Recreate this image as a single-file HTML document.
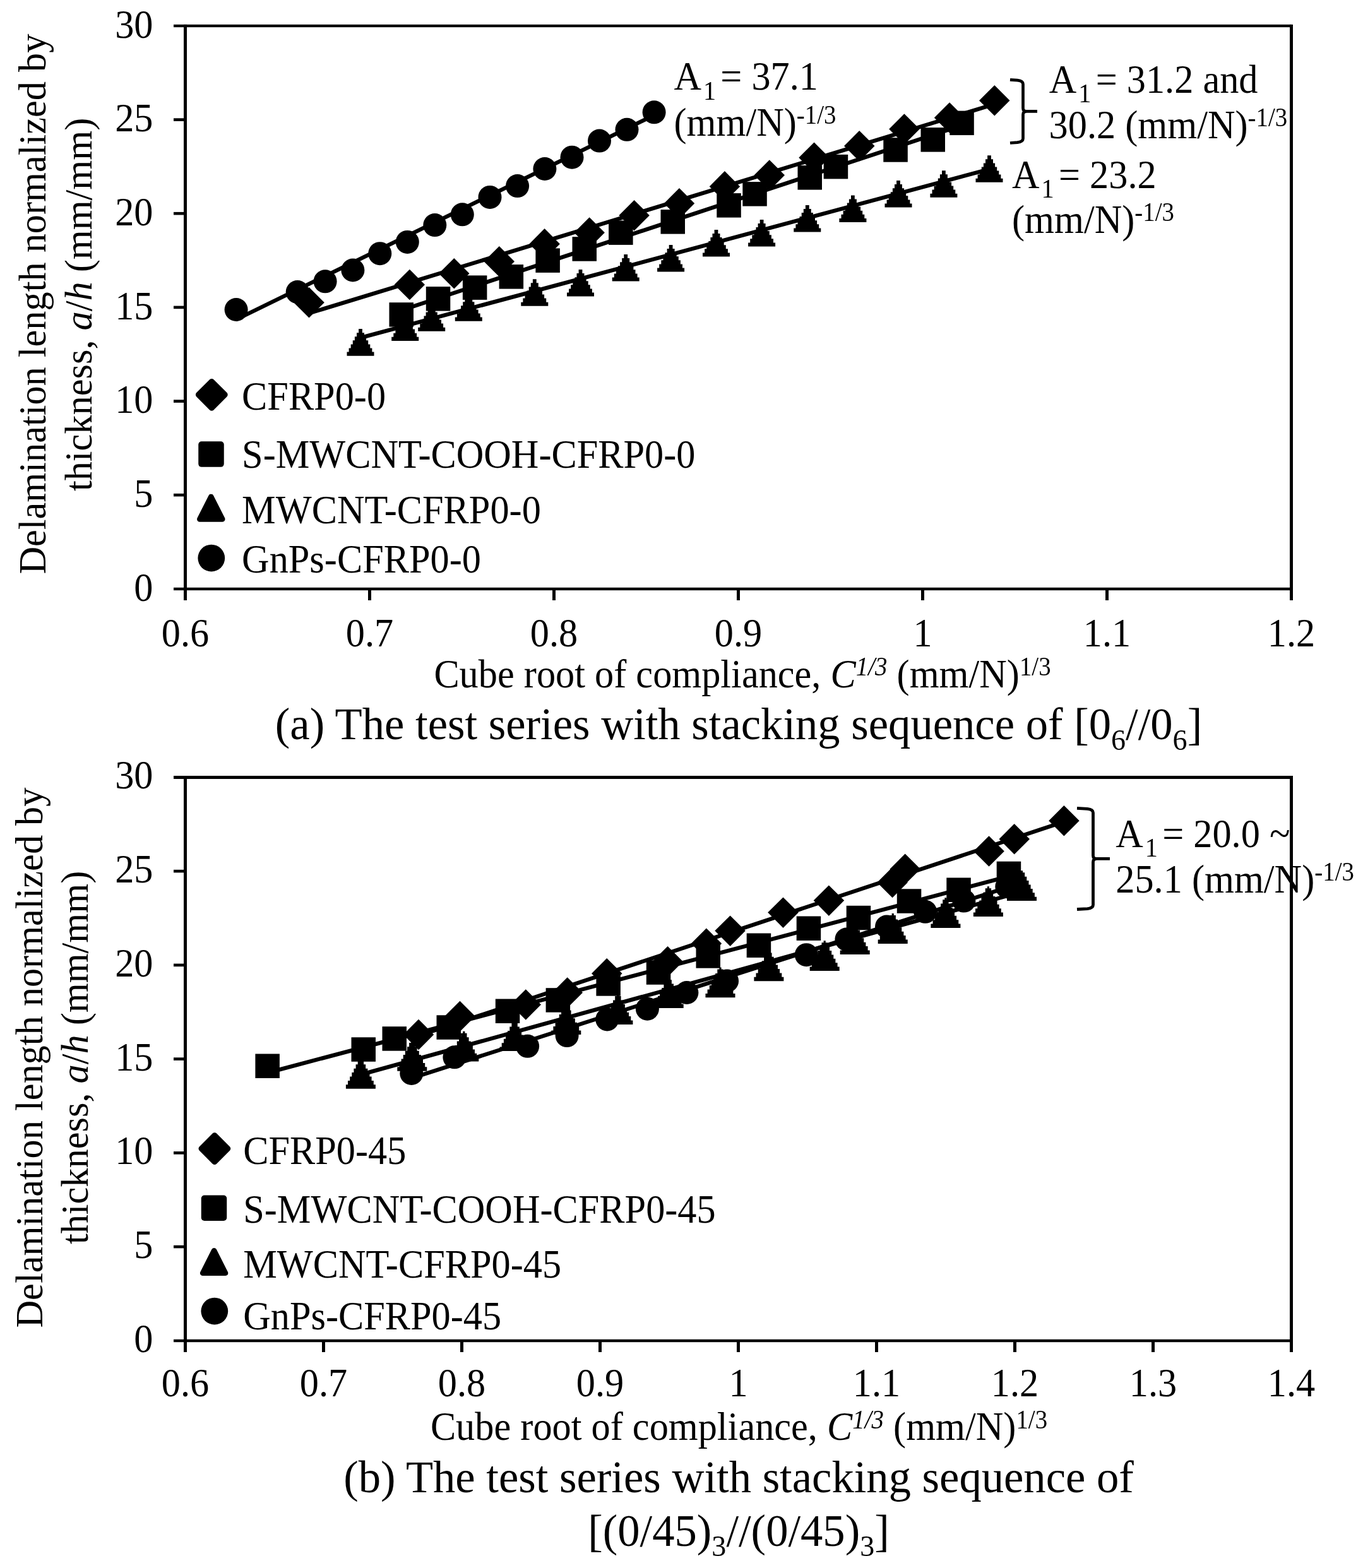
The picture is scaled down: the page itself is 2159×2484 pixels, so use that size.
<!DOCTYPE html>
<html lang="en">
<head>
<meta charset="utf-8">
<title>Delamination length vs cube root of compliance</title>
<style>
html,body{margin:0;padding:0;background:#fff;}
body{width:2159px;height:2484px;overflow:hidden;}
svg{display:block;}
svg text{font-family:"Liberation Serif",serif;fill:#000;}
.i{font-style:italic;}
</style>
</head>
<body>
<svg width="2159" height="2484" viewBox="0 0 2159 2484">
<rect width="2159" height="2484" fill="#fff"/>
<g class="chart-a">
<g class="ticks">
<text transform="translate(242.5 59.6) scale(0.973 1.03)" font-size="62" text-anchor="end">30</text>
<text transform="translate(242.5 208.3) scale(0.973 1.03)" font-size="62" text-anchor="end">25</text>
<text transform="translate(242.5 356.9) scale(0.973 1.03)" font-size="62" text-anchor="end">20</text>
<text transform="translate(242.5 505.6) scale(0.973 1.03)" font-size="62" text-anchor="end">15</text>
<text transform="translate(242.5 654.3) scale(0.973 1.03)" font-size="62" text-anchor="end">10</text>
<text transform="translate(242.5 802.9) scale(0.973 1.03)" font-size="62" text-anchor="end">5</text>
<text transform="translate(242.5 951.6) scale(0.973 1.03)" font-size="62" text-anchor="end">0</text>
<text transform="translate(293.5 1023.5) scale(0.973 1.03)" font-size="62" text-anchor="middle">0.6</text>
<text transform="translate(585.5 1023.5) scale(0.973 1.03)" font-size="62" text-anchor="middle">0.7</text>
<text transform="translate(877.5 1023.5) scale(0.973 1.03)" font-size="62" text-anchor="middle">0.8</text>
<text transform="translate(1169.5 1023.5) scale(0.973 1.03)" font-size="62" text-anchor="middle">0.9</text>
<text transform="translate(1461.5 1023.5) scale(0.973 1.03)" font-size="62" text-anchor="middle">1</text>
<text transform="translate(1753.5 1023.5) scale(0.973 1.03)" font-size="62" text-anchor="middle">1.1</text>
<text transform="translate(2045.5 1023.5) scale(0.973 1.03)" font-size="62" text-anchor="middle">1.2</text>
</g>
<g class="trend" stroke="#000" stroke-width="6.3" fill="none">
<line x1="373.5" y1="506.5" x2="1035.5" y2="182.8"/>
<line x1="489.5" y1="496.3" x2="1575.3" y2="165.0"/>
<line x1="635.3" y1="491.7" x2="1523.1" y2="198.8"/>
<line x1="571.0" y1="535.1" x2="1567.0" y2="268.0"/>
</g>
<g class="markers" fill="#000">
<path d="M489.5 455.1L513.8 479.3L489.5 503.6L465.2 479.3Z"/>
<path d="M648.8 426.8L673.0 451.1L648.8 475.3L624.5 451.1Z"/>
<path d="M719.3 409.1L743.5 433.3L719.3 457.6L695.0 433.3Z"/>
<path d="M790.8 390.1L815.0 414.3L790.8 438.6L766.5 414.3Z"/>
<path d="M862.6 362.1L886.9 386.4L862.6 410.6L838.4 386.4Z"/>
<path d="M933.6 344.3L957.9 368.6L933.6 392.8L909.4 368.6Z"/>
<path d="M1004.6 316.9L1028.8 341.2L1004.6 365.4L980.4 341.2Z"/>
<path d="M1076.0 297.9L1100.2 322.2L1076.0 346.4L1051.8 322.2Z"/>
<path d="M1147.9 271.1L1172.2 295.4L1147.9 319.6L1123.7 295.4Z"/>
<path d="M1218.8 253.3L1243.0 277.6L1218.8 301.8L1194.5 277.6Z"/>
<path d="M1289.6 225.5L1313.8 249.8L1289.6 274.0L1265.3 249.8Z"/>
<path d="M1361.2 207.0L1385.5 231.3L1361.2 255.5L1337.0 231.3Z"/>
<path d="M1432.4 180.2L1456.7 204.5L1432.4 228.8L1408.2 204.5Z"/>
<path d="M1504.1 162.3L1528.3 186.6L1504.1 210.8L1479.8 186.6Z"/>
<path d="M1575.3 134.9L1599.5 159.2L1575.3 183.4L1551.0 159.2Z"/>
<rect x="616.5" y="479.2" width="38.5" height="38.5"/>
<rect x="674.8" y="454.1" width="38.5" height="38.5"/>
<rect x="732.9" y="436.4" width="38.5" height="38.5"/>
<rect x="790.6" y="419.1" width="38.5" height="38.5"/>
<rect x="848.4" y="393.4" width="38.5" height="38.5"/>
<rect x="906.5" y="375.2" width="38.5" height="38.5"/>
<rect x="964.1" y="349.4" width="38.5" height="38.5"/>
<rect x="1046.5" y="332.1" width="38.5" height="38.5"/>
<rect x="1135.3" y="306.1" width="38.5" height="38.5"/>
<rect x="1176.3" y="288.1" width="38.5" height="38.5"/>
<rect x="1263.5" y="262.1" width="38.5" height="38.5"/>
<rect x="1304.7" y="244.9" width="38.5" height="38.5"/>
<rect x="1399.3" y="218.2" width="38.5" height="38.5"/>
<rect x="1458.5" y="202.1" width="38.5" height="38.5"/>
<rect x="1504.3" y="175.6" width="38.5" height="38.5"/>
<path d="M549.5 563.7L549.5 557.6L552.6 557.6L552.6 551.5L555.7 551.5L555.7 545.4L558.8 545.4L558.8 539.3L561.9 539.3L561.9 533.2L565.0 533.2L565.0 527.2L568.1 527.2L568.1 521.1L573.9 521.1L573.9 527.2L577.0 527.2L577.0 533.2L580.1 533.2L580.1 539.3L583.2 539.3L583.2 545.4L586.3 545.4L586.3 551.5L589.4 551.5L589.4 557.6L592.5 557.6L592.5 563.7Z"/>
<path d="M620.2 539.9L620.2 533.8L623.3 533.8L623.3 527.7L626.4 527.7L626.4 521.6L629.5 521.6L629.5 515.5L632.6 515.5L632.6 509.4L635.7 509.4L635.7 503.4L638.8 503.4L638.8 497.3L644.6 497.3L644.6 503.4L647.7 503.4L647.7 509.4L650.8 509.4L650.8 515.5L653.9 515.5L653.9 521.6L657.0 521.6L657.0 527.7L660.1 527.7L660.1 533.8L663.2 533.8L663.2 539.9Z"/>
<path d="M662.2 524.8L662.2 518.7L665.3 518.7L665.3 512.6L668.4 512.6L668.4 506.5L671.5 506.5L671.5 500.4L674.6 500.4L674.6 494.4L677.7 494.4L677.7 488.3L680.8 488.3L680.8 482.2L686.6 482.2L686.6 488.3L689.7 488.3L689.7 494.4L692.8 494.4L692.8 500.4L695.9 500.4L695.9 506.5L699.0 506.5L699.0 512.6L702.1 512.6L702.1 518.7L705.2 518.7L705.2 524.8Z"/>
<path d="M720.8 508.7L720.8 502.6L723.9 502.6L723.9 496.5L727.0 496.5L727.0 490.4L730.1 490.4L730.1 484.3L733.2 484.3L733.2 478.3L736.3 478.3L736.3 472.2L739.4 472.2L739.4 466.1L745.2 466.1L745.2 472.2L748.3 472.2L748.3 478.3L751.4 478.3L751.4 484.3L754.5 484.3L754.5 490.4L757.6 490.4L757.6 496.5L760.7 496.5L760.7 502.6L763.8 502.6L763.8 508.7Z"/>
<path d="M825.3 484.8L825.3 478.7L828.4 478.7L828.4 472.6L831.5 472.6L831.5 466.5L834.6 466.5L834.6 460.4L837.7 460.4L837.7 454.4L840.8 454.4L840.8 448.3L843.9 448.3L843.9 442.2L849.7 442.2L849.7 448.3L852.8 448.3L852.8 454.4L855.9 454.4L855.9 460.4L859.0 460.4L859.0 466.5L862.1 466.5L862.1 472.6L865.2 472.6L865.2 478.7L868.3 478.7L868.3 484.8Z"/>
<path d="M898.0 469.6L898.0 463.5L901.1 463.5L901.1 457.4L904.2 457.4L904.2 451.3L907.3 451.3L907.3 445.2L910.4 445.2L910.4 439.2L913.5 439.2L913.5 433.1L916.6 433.1L916.6 427.0L922.4 427.0L922.4 433.1L925.5 433.1L925.5 439.2L928.6 439.2L928.6 445.2L931.7 445.2L931.7 451.3L934.8 451.3L934.8 457.4L937.9 457.4L937.9 463.5L941.0 463.5L941.0 469.6Z"/>
<path d="M969.7 445.6L969.7 439.5L972.8 439.5L972.8 433.4L975.9 433.4L975.9 427.3L979.0 427.3L979.0 421.2L982.1 421.2L982.1 415.2L985.2 415.2L985.2 409.1L988.3 409.1L988.3 403.0L994.1 403.0L994.1 409.1L997.2 409.1L997.2 415.2L1000.3 415.2L1000.3 421.2L1003.4 421.2L1003.4 427.3L1006.5 427.3L1006.5 433.4L1009.6 433.4L1009.6 439.5L1012.7 439.5L1012.7 445.6Z"/>
<path d="M1041.1 430.6L1041.1 424.5L1044.2 424.5L1044.2 418.4L1047.3 418.4L1047.3 412.3L1050.4 412.3L1050.4 406.2L1053.5 406.2L1053.5 400.2L1056.6 400.2L1056.6 394.1L1059.7 394.1L1059.7 388.0L1065.5 388.0L1065.5 394.1L1068.6 394.1L1068.6 400.2L1071.7 400.2L1071.7 406.2L1074.8 406.2L1074.8 412.3L1077.9 412.3L1077.9 418.4L1081.0 418.4L1081.0 424.5L1084.1 424.5L1084.1 430.6Z"/>
<path d="M1113.0 406.5L1113.0 400.4L1116.1 400.4L1116.1 394.3L1119.2 394.3L1119.2 388.2L1122.3 388.2L1122.3 382.1L1125.4 382.1L1125.4 376.1L1128.5 376.1L1128.5 370.0L1131.6 370.0L1131.6 363.9L1137.4 363.9L1137.4 370.0L1140.5 370.0L1140.5 376.1L1143.6 376.1L1143.6 382.1L1146.7 382.1L1146.7 388.2L1149.8 388.2L1149.8 394.3L1152.9 394.3L1152.9 400.4L1156.0 400.4L1156.0 406.5Z"/>
<path d="M1185.1 390.5L1185.1 384.4L1188.2 384.4L1188.2 378.3L1191.3 378.3L1191.3 372.2L1194.4 372.2L1194.4 366.1L1197.5 366.1L1197.5 360.1L1200.6 360.1L1200.6 354.0L1203.7 354.0L1203.7 347.9L1209.5 347.9L1209.5 354.0L1212.6 354.0L1212.6 360.1L1215.7 360.1L1215.7 366.1L1218.8 366.1L1218.8 372.2L1221.9 372.2L1221.9 378.3L1225.0 378.3L1225.0 384.4L1228.1 384.4L1228.1 390.5Z"/>
<path d="M1257.3 367.5L1257.3 361.4L1260.4 361.4L1260.4 355.3L1263.5 355.3L1263.5 349.2L1266.6 349.2L1266.6 343.1L1269.7 343.1L1269.7 337.1L1272.8 337.1L1272.8 331.0L1275.9 331.0L1275.9 324.9L1281.7 324.9L1281.7 331.0L1284.8 331.0L1284.8 337.1L1287.9 337.1L1287.9 343.1L1291.0 343.1L1291.0 349.2L1294.1 349.2L1294.1 355.3L1297.2 355.3L1297.2 361.4L1300.3 361.4L1300.3 367.5Z"/>
<path d="M1329.4 352.0L1329.4 345.9L1332.5 345.9L1332.5 339.8L1335.6 339.8L1335.6 333.7L1338.7 333.7L1338.7 327.6L1341.8 327.6L1341.8 321.6L1344.9 321.6L1344.9 315.5L1348.0 315.5L1348.0 309.4L1353.8 309.4L1353.8 315.5L1356.9 315.5L1356.9 321.6L1360.0 321.6L1360.0 327.6L1363.1 327.6L1363.1 333.7L1366.2 333.7L1366.2 339.8L1369.3 339.8L1369.3 345.9L1372.4 345.9L1372.4 352.0Z"/>
<path d="M1401.5 328.6L1401.5 322.5L1404.6 322.5L1404.6 316.4L1407.7 316.4L1407.7 310.3L1410.8 310.3L1410.8 304.2L1413.9 304.2L1413.9 298.2L1417.0 298.2L1417.0 292.1L1420.1 292.1L1420.1 286.0L1425.9 286.0L1425.9 292.1L1429.0 292.1L1429.0 298.2L1432.1 298.2L1432.1 304.2L1435.2 304.2L1435.2 310.3L1438.3 310.3L1438.3 316.4L1441.4 316.4L1441.4 322.5L1444.5 322.5L1444.5 328.6Z"/>
<path d="M1473.4 312.8L1473.4 306.7L1476.5 306.7L1476.5 300.6L1479.6 300.6L1479.6 294.5L1482.7 294.5L1482.7 288.4L1485.8 288.4L1485.8 282.4L1488.9 282.4L1488.9 276.3L1492.0 276.3L1492.0 270.2L1497.8 270.2L1497.8 276.3L1500.9 276.3L1500.9 282.4L1504.0 282.4L1504.0 288.4L1507.1 288.4L1507.1 294.5L1510.2 294.5L1510.2 300.6L1513.3 300.6L1513.3 306.7L1516.4 306.7L1516.4 312.8Z"/>
<path d="M1545.5 288.8L1545.5 282.7L1548.6 282.7L1548.6 276.6L1551.7 276.6L1551.7 270.5L1554.8 270.5L1554.8 264.4L1557.9 264.4L1557.9 258.4L1561.0 258.4L1561.0 252.3L1564.1 252.3L1564.1 246.2L1569.9 246.2L1569.9 252.3L1573.0 252.3L1573.0 258.4L1576.1 258.4L1576.1 264.4L1579.2 264.4L1579.2 270.5L1582.3 270.5L1582.3 276.6L1585.4 276.6L1585.4 282.7L1588.5 282.7L1588.5 288.8Z"/>
<circle cx="374.1" cy="490.5" r="18.5"/>
<circle cx="471.2" cy="462.6" r="18.5"/>
<circle cx="515.1" cy="445.8" r="18.5"/>
<circle cx="558.9" cy="428.0" r="18.5"/>
<circle cx="601.8" cy="401.7" r="18.5"/>
<circle cx="645.3" cy="383.4" r="18.5"/>
<circle cx="688.8" cy="356.6" r="18.5"/>
<circle cx="732.3" cy="339.8" r="18.5"/>
<circle cx="776.0" cy="312.4" r="18.5"/>
<circle cx="819.6" cy="294.6" r="18.5"/>
<circle cx="862.9" cy="267.5" r="18.5"/>
<circle cx="906.0" cy="249.2" r="18.5"/>
<circle cx="949.5" cy="223.1" r="18.5"/>
<circle cx="993.0" cy="205.3" r="18.5"/>
<circle cx="1036.1" cy="177.8" r="18.5"/>
</g>
<g class="legend">
<path d="M335.3 604.4L356.2 625.3L335.3 646.1999999999999L314.40000000000003 625.3Z" fill="#000" stroke="#000" stroke-width="9" stroke-linejoin="round"/>
<text transform="translate(383.1 648.9) scale(0.973 1.03)" font-size="62">CFRP0-0</text>
<rect x="314.25" y="699.35" width="40.5" height="40.5" rx="5" ry="5" fill="#000"/>
<text transform="translate(383.1 741.4) scale(0.973 1.03)" font-size="62">S-MWCNT-COOH-CFRP0-0</text>
<path d="M334.3 786.9000000000001L352.3 822.5L316.3 822.5Z" fill="#000" stroke="#000" stroke-width="8.5" stroke-linejoin="round"/>
<text transform="translate(383.1 829.0) scale(0.973 1.03)" font-size="62">MWCNT-CFRP0-0</text>
<circle cx="334.8" cy="884.1" r="21.4" fill="#000"/>
<text transform="translate(383.1 907.1) scale(0.973 1.03)" font-size="62">GnPs-CFRP0-0</text>
</g>
</g>
<g class="chart-b">
<g class="ticks">
<text transform="translate(242.5 1249.3) scale(0.973 1.03)" font-size="62" text-anchor="end">30</text>
<text transform="translate(242.5 1398.0) scale(0.973 1.03)" font-size="62" text-anchor="end">25</text>
<text transform="translate(242.5 1546.8) scale(0.973 1.03)" font-size="62" text-anchor="end">20</text>
<text transform="translate(242.5 1695.5) scale(0.973 1.03)" font-size="62" text-anchor="end">15</text>
<text transform="translate(242.5 1844.3) scale(0.973 1.03)" font-size="62" text-anchor="end">10</text>
<text transform="translate(242.5 1993.0) scale(0.973 1.03)" font-size="62" text-anchor="end">5</text>
<text transform="translate(242.5 2141.8) scale(0.973 1.03)" font-size="62" text-anchor="end">0</text>
<text transform="translate(293.5 2212.1) scale(0.973 1.03)" font-size="62" text-anchor="middle">0.6</text>
<text transform="translate(512.5 2212.1) scale(0.973 1.03)" font-size="62" text-anchor="middle">0.7</text>
<text transform="translate(731.5 2212.1) scale(0.973 1.03)" font-size="62" text-anchor="middle">0.8</text>
<text transform="translate(950.5 2212.1) scale(0.973 1.03)" font-size="62" text-anchor="middle">0.9</text>
<text transform="translate(1169.5 2212.1) scale(0.973 1.03)" font-size="62" text-anchor="middle">1</text>
<text transform="translate(1388.5 2212.1) scale(0.973 1.03)" font-size="62" text-anchor="middle">1.1</text>
<text transform="translate(1607.5 2212.1) scale(0.973 1.03)" font-size="62" text-anchor="middle">1.2</text>
<text transform="translate(1826.5 2212.1) scale(0.973 1.03)" font-size="62" text-anchor="middle">1.3</text>
<text transform="translate(2045.5 2212.1) scale(0.973 1.03)" font-size="62" text-anchor="middle">1.4</text>
</g>
<g class="trend" stroke="#000" stroke-width="6.3" fill="none">
<line x1="651.2" y1="1708.2" x2="1594.2" y2="1406.3"/>
<line x1="663.0" y1="1640.8" x2="1685.4" y2="1301.7"/>
<line x1="423.2" y1="1699.6" x2="1597.4" y2="1388.4"/>
<line x1="571.4" y1="1702.4" x2="1618.5" y2="1412.8"/>
</g>
<g class="markers" fill="#000">
<path d="M663.0 1614.8L687.2 1639.0L663.0 1663.2L638.8 1639.0Z"/>
<path d="M728.5 1585.8L752.8 1610.0L728.5 1634.2L704.2 1610.0Z"/>
<path d="M832.8 1567.2L857.0 1591.4L832.8 1615.7L808.5 1591.4Z"/>
<path d="M898.7 1548.2L923.0 1572.4L898.7 1596.7L874.5 1572.4Z"/>
<path d="M961.2 1518.0L985.5 1542.3L961.2 1566.5L937.0 1542.3Z"/>
<path d="M1057.6 1499.0L1081.8 1523.3L1057.6 1547.5L1033.3 1523.3Z"/>
<path d="M1118.9 1470.5L1143.2 1494.7L1118.9 1519.0L1094.7 1494.7Z"/>
<path d="M1156.6 1450.4L1180.8 1474.6L1156.6 1498.9L1132.3 1474.6Z"/>
<path d="M1240.5 1421.4L1264.8 1445.6L1240.5 1469.9L1216.2 1445.6Z"/>
<path d="M1312.9 1402.4L1337.2 1426.6L1312.9 1450.9L1288.7 1426.6Z"/>
<path d="M1413.6 1373.8L1437.8 1398.0L1413.6 1422.2L1389.3 1398.0Z"/>
<path d="M1433.7 1352.5L1458.0 1376.8L1433.7 1401.0L1409.5 1376.8Z"/>
<path d="M1566.5 1324.2L1590.8 1348.5L1566.5 1372.8L1542.2 1348.5Z"/>
<path d="M1606.7 1305.0L1631.0 1329.3L1606.7 1353.5L1582.5 1329.3Z"/>
<path d="M1685.4 1276.0L1709.7 1300.3L1685.4 1324.5L1661.2 1300.3Z"/>
<rect x="404.4" y="1669.5" width="38.5" height="38.5"/>
<rect x="556.5" y="1643.3" width="38.5" height="38.5"/>
<rect x="605.5" y="1626.2" width="38.5" height="38.5"/>
<rect x="691.5" y="1608.3" width="38.5" height="38.5"/>
<rect x="784.8" y="1582.5" width="38.5" height="38.5"/>
<rect x="864.6" y="1565.2" width="38.5" height="38.5"/>
<rect x="944.4" y="1539.2" width="38.5" height="38.5"/>
<rect x="1023.8" y="1521.3" width="38.5" height="38.5"/>
<rect x="1102.5" y="1495.2" width="38.5" height="38.5"/>
<rect x="1182.7" y="1478.5" width="38.5" height="38.5"/>
<rect x="1261.7" y="1451.5" width="38.5" height="38.5"/>
<rect x="1340.7" y="1434.8" width="38.5" height="38.5"/>
<rect x="1420.8" y="1408.3" width="38.5" height="38.5"/>
<rect x="1499.3" y="1390.5" width="38.5" height="38.5"/>
<rect x="1578.7" y="1364.7" width="38.5" height="38.5"/>
<path d="M547.9 1724.7L547.9 1718.3L551.0 1718.3L551.0 1711.9L554.2 1711.9L554.2 1705.5L557.3 1705.5L557.3 1699.1L560.4 1699.1L560.4 1692.7L563.6 1692.7L563.6 1686.3L566.7 1686.3L566.7 1679.9L569.8 1679.9L569.8 1676.9L573.0 1676.9L573.0 1679.9L576.1 1679.9L576.1 1686.3L579.2 1686.3L579.2 1692.7L582.4 1692.7L582.4 1699.1L585.5 1699.1L585.5 1705.5L588.6 1705.5L588.6 1711.9L591.8 1711.9L591.8 1718.3L594.9 1718.3L594.9 1724.7Z"/>
<path d="M629.3 1696.7L629.3 1690.3L632.4 1690.3L632.4 1683.9L635.6 1683.9L635.6 1677.5L638.7 1677.5L638.7 1671.1L641.8 1671.1L641.8 1664.7L645.0 1664.7L645.0 1658.3L648.1 1658.3L648.1 1651.9L651.2 1651.9L651.2 1648.9L654.4 1648.9L654.4 1651.9L657.5 1651.9L657.5 1658.3L660.6 1658.3L660.6 1664.7L663.8 1664.7L663.8 1671.1L666.9 1671.1L666.9 1677.5L670.0 1677.5L670.0 1683.9L673.2 1683.9L673.2 1690.3L676.3 1690.3L676.3 1696.7Z"/>
<path d="M711.3 1681.6L711.3 1675.2L714.4 1675.2L714.4 1668.8L717.6 1668.8L717.6 1662.4L720.7 1662.4L720.7 1656.0L723.8 1656.0L723.8 1649.6L727.0 1649.6L727.0 1643.2L730.1 1643.2L730.1 1636.8L733.2 1636.8L733.2 1633.8L736.4 1633.8L736.4 1636.8L739.5 1636.8L739.5 1643.2L742.6 1643.2L742.6 1649.6L745.8 1649.6L745.8 1656.0L748.9 1656.0L748.9 1662.4L752.0 1662.4L752.0 1668.8L755.2 1668.8L755.2 1675.2L758.3 1675.2L758.3 1681.6Z"/>
<path d="M791.6 1665.0L791.6 1658.6L794.7 1658.6L794.7 1652.2L797.9 1652.2L797.9 1645.8L801.0 1645.8L801.0 1639.4L804.1 1639.4L804.1 1633.0L807.3 1633.0L807.3 1626.6L810.4 1626.6L810.4 1620.2L813.5 1620.2L813.5 1617.2L816.7 1617.2L816.7 1620.2L819.8 1620.2L819.8 1626.6L822.9 1626.6L822.9 1633.0L826.1 1633.0L826.1 1639.4L829.2 1639.4L829.2 1645.8L832.3 1645.8L832.3 1652.2L835.5 1652.2L835.5 1658.6L838.6 1658.6L838.6 1665.0Z"/>
<path d="M873.3 1638.9L873.3 1632.5L876.4 1632.5L876.4 1626.1L879.6 1626.1L879.6 1619.7L882.7 1619.7L882.7 1613.3L885.8 1613.3L885.8 1606.9L889.0 1606.9L889.0 1600.5L892.1 1600.5L892.1 1594.1L895.2 1594.1L895.2 1591.1L898.4 1591.1L898.4 1594.1L901.5 1594.1L901.5 1600.5L904.6 1600.5L904.6 1606.9L907.8 1606.9L907.8 1613.3L910.9 1613.3L910.9 1619.7L914.0 1619.7L914.0 1626.1L917.2 1626.1L917.2 1632.5L920.3 1632.5L920.3 1638.9Z"/>
<path d="M955.4 1622.9L955.4 1616.5L958.5 1616.5L958.5 1610.1L961.7 1610.1L961.7 1603.7L964.8 1603.7L964.8 1597.3L967.9 1597.3L967.9 1590.9L971.1 1590.9L971.1 1584.5L974.2 1584.5L974.2 1578.1L977.3 1578.1L977.3 1575.1L980.5 1575.1L980.5 1578.1L983.6 1578.1L983.6 1584.5L986.7 1584.5L986.7 1590.9L989.9 1590.9L989.9 1597.3L993.0 1597.3L993.0 1603.7L996.1 1603.7L996.1 1610.1L999.3 1610.1L999.3 1616.5L1002.4 1616.5L1002.4 1622.9Z"/>
<path d="M1035.7 1597.0L1035.7 1590.6L1038.8 1590.6L1038.8 1584.2L1042.0 1584.2L1042.0 1577.8L1045.1 1577.8L1045.1 1571.4L1048.2 1571.4L1048.2 1565.0L1051.4 1565.0L1051.4 1558.6L1054.5 1558.6L1054.5 1552.2L1057.6 1552.2L1057.6 1549.2L1060.8 1549.2L1060.8 1552.2L1063.9 1552.2L1063.9 1558.6L1067.0 1558.6L1067.0 1565.0L1070.2 1565.0L1070.2 1571.4L1073.3 1571.4L1073.3 1577.8L1076.4 1577.8L1076.4 1584.2L1079.6 1584.2L1079.6 1590.6L1082.7 1590.6L1082.7 1597.0Z"/>
<path d="M1117.5 1580.3L1117.5 1573.9L1120.6 1573.9L1120.6 1567.5L1123.8 1567.5L1123.8 1561.1L1126.9 1561.1L1126.9 1554.7L1130.0 1554.7L1130.0 1548.3L1133.2 1548.3L1133.2 1541.9L1136.3 1541.9L1136.3 1535.5L1139.4 1535.5L1139.4 1532.5L1142.6 1532.5L1142.6 1535.5L1145.7 1535.5L1145.7 1541.9L1148.8 1541.9L1148.8 1548.3L1152.0 1548.3L1152.0 1554.7L1155.1 1554.7L1155.1 1561.1L1158.2 1561.1L1158.2 1567.5L1161.4 1567.5L1161.4 1573.9L1164.5 1573.9L1164.5 1580.3Z"/>
<path d="M1194.4 1554.2L1194.4 1547.8L1197.5 1547.8L1197.5 1541.4L1200.7 1541.4L1200.7 1535.0L1203.8 1535.0L1203.8 1528.6L1206.9 1528.6L1206.9 1522.2L1210.1 1522.2L1210.1 1515.8L1213.2 1515.8L1213.2 1509.4L1216.3 1509.4L1216.3 1506.4L1219.5 1506.4L1219.5 1509.4L1222.6 1509.4L1222.6 1515.8L1225.7 1515.8L1225.7 1522.2L1228.9 1522.2L1228.9 1528.6L1232.0 1528.6L1232.0 1535.0L1235.1 1535.0L1235.1 1541.4L1238.3 1541.4L1238.3 1547.8L1241.4 1547.8L1241.4 1554.2Z"/>
<path d="M1282.7 1538.0L1282.7 1531.6L1285.8 1531.6L1285.8 1525.2L1289.0 1525.2L1289.0 1518.8L1292.1 1518.8L1292.1 1512.4L1295.2 1512.4L1295.2 1506.0L1298.4 1506.0L1298.4 1499.6L1301.5 1499.6L1301.5 1493.2L1304.6 1493.2L1304.6 1490.2L1307.8 1490.2L1307.8 1493.2L1310.9 1493.2L1310.9 1499.6L1314.0 1499.6L1314.0 1506.0L1317.2 1506.0L1317.2 1512.4L1320.3 1512.4L1320.3 1518.8L1323.4 1518.8L1323.4 1525.2L1326.6 1525.2L1326.6 1531.6L1329.7 1531.6L1329.7 1538.0Z"/>
<path d="M1330.7 1511.9L1330.7 1505.5L1333.8 1505.5L1333.8 1499.1L1337.0 1499.1L1337.0 1492.7L1340.1 1492.7L1340.1 1486.3L1343.2 1486.3L1343.2 1479.9L1346.4 1479.9L1346.4 1473.5L1349.5 1473.5L1349.5 1467.1L1352.6 1467.1L1352.6 1464.1L1355.8 1464.1L1355.8 1467.1L1358.9 1467.1L1358.9 1473.5L1362.0 1473.5L1362.0 1479.9L1365.2 1479.9L1365.2 1486.3L1368.3 1486.3L1368.3 1492.7L1371.4 1492.7L1371.4 1499.1L1374.6 1499.1L1374.6 1505.5L1377.7 1505.5L1377.7 1511.9Z"/>
<path d="M1390.7 1494.9L1390.7 1488.5L1393.8 1488.5L1393.8 1482.1L1397.0 1482.1L1397.0 1475.7L1400.1 1475.7L1400.1 1469.3L1403.2 1469.3L1403.2 1462.9L1406.4 1462.9L1406.4 1456.5L1409.5 1456.5L1409.5 1450.1L1412.6 1450.1L1412.6 1447.1L1415.8 1447.1L1415.8 1450.1L1418.9 1450.1L1418.9 1456.5L1422.0 1456.5L1422.0 1462.9L1425.2 1462.9L1425.2 1469.3L1428.3 1469.3L1428.3 1475.7L1431.4 1475.7L1431.4 1482.1L1434.6 1482.1L1434.6 1488.5L1437.7 1488.5L1437.7 1494.9Z"/>
<path d="M1474.4 1470.0L1474.4 1463.6L1477.5 1463.6L1477.5 1457.2L1480.7 1457.2L1480.7 1450.8L1483.8 1450.8L1483.8 1444.4L1486.9 1444.4L1486.9 1438.0L1490.1 1438.0L1490.1 1431.6L1493.2 1431.6L1493.2 1425.2L1496.3 1425.2L1496.3 1422.2L1499.5 1422.2L1499.5 1425.2L1502.6 1425.2L1502.6 1431.6L1505.7 1431.6L1505.7 1438.0L1508.9 1438.0L1508.9 1444.4L1512.0 1444.4L1512.0 1450.8L1515.1 1450.8L1515.1 1457.2L1518.3 1457.2L1518.3 1463.6L1521.4 1463.6L1521.4 1470.0Z"/>
<path d="M1541.9 1452.0L1541.9 1445.6L1545.0 1445.6L1545.0 1439.2L1548.2 1439.2L1548.2 1432.8L1551.3 1432.8L1551.3 1426.4L1554.4 1426.4L1554.4 1420.0L1557.6 1420.0L1557.6 1413.6L1560.7 1413.6L1560.7 1407.2L1563.8 1407.2L1563.8 1404.2L1567.0 1404.2L1567.0 1407.2L1570.1 1407.2L1570.1 1413.6L1573.2 1413.6L1573.2 1420.0L1576.4 1420.0L1576.4 1426.4L1579.5 1426.4L1579.5 1432.8L1582.6 1432.8L1582.6 1439.2L1585.8 1439.2L1585.8 1445.6L1588.9 1445.6L1588.9 1452.0Z"/>
<path d="M1595.0 1427.1L1595.0 1420.7L1598.1 1420.7L1598.1 1414.3L1601.3 1414.3L1601.3 1407.9L1604.4 1407.9L1604.4 1401.5L1607.5 1401.5L1607.5 1395.1L1610.7 1395.1L1610.7 1388.7L1613.8 1388.7L1613.8 1382.3L1616.9 1382.3L1616.9 1379.3L1620.1 1379.3L1620.1 1382.3L1623.2 1382.3L1623.2 1388.7L1626.3 1388.7L1626.3 1395.1L1629.5 1395.1L1629.5 1401.5L1632.6 1401.5L1632.6 1407.9L1635.7 1407.9L1635.7 1414.3L1638.9 1414.3L1638.9 1420.7L1642.0 1420.7L1642.0 1427.1Z"/>
<circle cx="651.8" cy="1700.5" r="18.5"/>
<circle cx="719.9" cy="1674.8" r="18.5"/>
<circle cx="835.6" cy="1657.3" r="18.5"/>
<circle cx="898.1" cy="1640.6" r="18.5"/>
<circle cx="961.8" cy="1614.9" r="18.5"/>
<circle cx="1025.4" cy="1598.2" r="18.5"/>
<circle cx="1087.9" cy="1572.5" r="18.5"/>
<circle cx="1151.6" cy="1554.0" r="18.5"/>
<circle cx="1277.3" cy="1512.7" r="18.5"/>
<circle cx="1340.9" cy="1488.1" r="18.5"/>
<circle cx="1404.5" cy="1468.0" r="18.5"/>
<circle cx="1465.6" cy="1444.3" r="18.5"/>
<circle cx="1526.9" cy="1427.1" r="18.5"/>
<circle cx="1594.8" cy="1404.7" r="18.5"/>
</g>
<g class="legend">
<path d="M339.9 1798.6999999999998L360.79999999999995 1819.6L339.9 1840.5L319.0 1819.6Z" fill="#000" stroke="#000" stroke-width="9" stroke-linejoin="round"/>
<text transform="translate(385.2 1843.5) scale(0.973 1.03)" font-size="62">CFRP0-45</text>
<rect x="318.75" y="1893.55" width="40.5" height="40.5" rx="5" ry="5" fill="#000"/>
<text transform="translate(385.2 1936.5) scale(0.973 1.03)" font-size="62">S-MWCNT-COOH-CFRP0-45</text>
<path d="M339.1 1981.2L357.1 2016.8L321.1 2016.8Z" fill="#000" stroke="#000" stroke-width="8.5" stroke-linejoin="round"/>
<text transform="translate(385.2 2024.0) scale(0.973 1.03)" font-size="62">MWCNT-CFRP0-45</text>
<circle cx="339.8" cy="2077.1" r="21.4" fill="#000"/>
<text transform="translate(385.2 2106.0) scale(0.973 1.03)" font-size="62">GnPs-CFRP0-45</text>
</g>
</g>
<g class="titles">
<text transform="translate(72.3 481.6) rotate(-90) scale(0.973 1)" font-size="62" text-anchor="middle">Delamination length normalized by</text>
<text transform="translate(144.8 482.4) rotate(-90) scale(0.973 1)" font-size="62" text-anchor="middle">thickness, <tspan class="i">a</tspan>/<tspan class="i">h</tspan> (mm/mm)</text>
<text transform="translate(67.3 1675.5) rotate(-90) scale(0.973 1)" font-size="62" text-anchor="middle">Delamination length normalized by</text>
<text transform="translate(138.6 1675.4) rotate(-90) scale(0.973 1)" font-size="62" text-anchor="middle">thickness, <tspan class="i">a</tspan>/<tspan class="i">h</tspan> (mm/mm)</text>
<text transform="translate(1176.0 1088.5) scale(0.973 1.03)" font-size="62" text-anchor="middle">Cube root of compliance, <tspan class="i">C</tspan><tspan class="i" font-size="40" dy="-18.2">1/3</tspan><tspan dy="18.2"> (mm/N)</tspan><tspan font-size="40" dy="-18.2">1/3</tspan></text>
<text transform="translate(1170.5 2281.3) scale(0.973 1.03)" font-size="62" text-anchor="middle">Cube root of compliance, <tspan class="i">C</tspan><tspan class="i" font-size="40" dy="-18.2">1/3</tspan><tspan dy="18.2"> (mm/N)</tspan><tspan font-size="40" dy="-18.2">1/3</tspan></text>
</g>
<g class="captions">
<text transform="translate(1170.0 1171.0) scale(0.981 1)" font-size="72" text-anchor="middle">(a) The test series with stacking sequence of [0<tspan font-size="47" dy="16.5">6</tspan><tspan dy="-16.5">//0</tspan><tspan font-size="47" dy="16.5">6</tspan><tspan dy="-16.5">]</tspan></text>
<text transform="translate(1170.0 2363.7) scale(0.981 1)" font-size="72" text-anchor="middle">(b) The test series with stacking sequence of</text>
<text transform="translate(1170.0 2448.5) scale(0.981 1)" font-size="72" text-anchor="middle">[(0/45)<tspan font-size="47" dy="16.5">3</tspan><tspan dy="-16.5">//(0/45)</tspan><tspan font-size="47" dy="16.5">3</tspan><tspan dy="-16.5">]</tspan></text>
</g>
<g class="annotations">
<text transform="translate(1067.4 142.1) scale(0.973 1.03)" font-size="62">A<tspan font-size="41.5" dy="15" dx="3">1</tspan><tspan dy="-15" dx="-8"> =</tspan><tspan dx="0"> 37.1</tspan></text>
<text transform="translate(1067.5 214.5) scale(0.973 1.03)" font-size="62">(mm/N)<tspan font-size="40" dy="-18.2">-1/3</tspan></text>
<text transform="translate(1661.7 146.9) scale(0.973 1.03)" font-size="62">A<tspan font-size="41.5" dy="15" dx="3">1</tspan><tspan dy="-15" dx="-8"> =</tspan><tspan dx="0"> 31.2 and</tspan></text>
<text transform="translate(1661.6 219.1) scale(0.973 1.03)" font-size="62">30.2 (mm/N)<tspan font-size="40" dy="-18.2">-1/3</tspan></text>
<text transform="translate(1603.0 298.0) scale(0.973 1.03)" font-size="62">A<tspan font-size="41.5" dy="15" dx="3">1</tspan><tspan dy="-15" dx="-8"> =</tspan><tspan dx="0"> 23.2</tspan></text>
<text transform="translate(1603.0 368.7) scale(0.973 1.03)" font-size="62">(mm/N)<tspan font-size="40" dy="-18.2">-1/3</tspan></text>
<text transform="translate(1767.2 1342.0) scale(0.973 1.03)" font-size="62">A<tspan font-size="41.5" dy="15" dx="3">1</tspan><tspan dy="-15" dx="-8"> =</tspan><tspan dx="0"> 20.0 ~</tspan></text>
<text transform="translate(1767.3 1414.0) scale(0.973 1.03)" font-size="62">25.1 (mm/N)<tspan font-size="40" dy="-18.2">-1/3</tspan></text>
</g>
<g class="braces" fill="none" stroke="#000" stroke-linejoin="round">
<path d="M1600 126.3 L1611.5 127.2 Q1620.5 128.3 1620.5 133.3 L1620.5 171.4 Q1620.5 176.4 1626.5 176.4 L1643 176.4 M1626.5 176.4 Q1620.5 176.4 1620.5 181.4 L1620.5 219.5 Q1620.5 224.5 1611.5 225.6 L1600 226.5" stroke-width="4.7"/>
<path d="M1706 1280.4 L1722.5 1281.3000000000002 Q1731.5 1282.4 1731.5 1287.4 L1731.5 1355.4 Q1731.5 1360.4 1737.5 1360.4 L1758 1360.4 M1737.5 1360.4 Q1731.5 1360.4 1731.5 1365.4 L1731.5 1433.5 Q1731.5 1438.5 1722.5 1439.6 L1706 1440.5" stroke-width="4.8"/>
</g>
<g class="axes" fill="#000">
<rect x="291.0" y="38.85" width="5" height="912.15"/>
<rect x="2043.0" y="38.85" width="5" height="912.15"/>
<rect x="275.0" y="38.85" width="1770.5" height="4.3"/>
<rect x="275.0" y="930.8" width="1770.5" height="4.4"/>
<rect x="275.0" y="187.3" width="18.5" height="4.6"/>
<rect x="275.0" y="335.9" width="18.5" height="4.6"/>
<rect x="275.0" y="484.6" width="18.5" height="4.6"/>
<rect x="275.0" y="633.3" width="18.5" height="4.6"/>
<rect x="275.0" y="781.9" width="18.5" height="4.6"/>
<rect x="583.0" y="933" width="5" height="18"/>
<rect x="875.0" y="933" width="5" height="18"/>
<rect x="1167.0" y="933" width="5" height="18"/>
<rect x="1459.0" y="933" width="5" height="18"/>
<rect x="1751.0" y="933" width="5" height="18"/>
</g>
<g class="axes" fill="#000">
<rect x="291.0" y="1229.0" width="5" height="913.0"/>
<rect x="2043.0" y="1229.0" width="5" height="913.0"/>
<rect x="275.0" y="1229.0" width="1770.5" height="5"/>
<rect x="275.0" y="2121.8" width="1770.5" height="4.4"/>
<rect x="275.0" y="1377.8" width="18.5" height="4.6"/>
<rect x="275.0" y="1526.6" width="18.5" height="4.6"/>
<rect x="275.0" y="1675.3" width="18.5" height="4.6"/>
<rect x="275.0" y="1824.1" width="18.5" height="4.6"/>
<rect x="275.0" y="1972.8" width="18.5" height="4.6"/>
<rect x="510.0" y="2124" width="5" height="18"/>
<rect x="729.0" y="2124" width="5" height="18"/>
<rect x="948.0" y="2124" width="5" height="18"/>
<rect x="1167.0" y="2124" width="5" height="18"/>
<rect x="1386.0" y="2124" width="5" height="18"/>
<rect x="1605.0" y="2124" width="5" height="18"/>
<rect x="1824.0" y="2124" width="5" height="18"/>
</g>
</svg>
</body>
</html>
